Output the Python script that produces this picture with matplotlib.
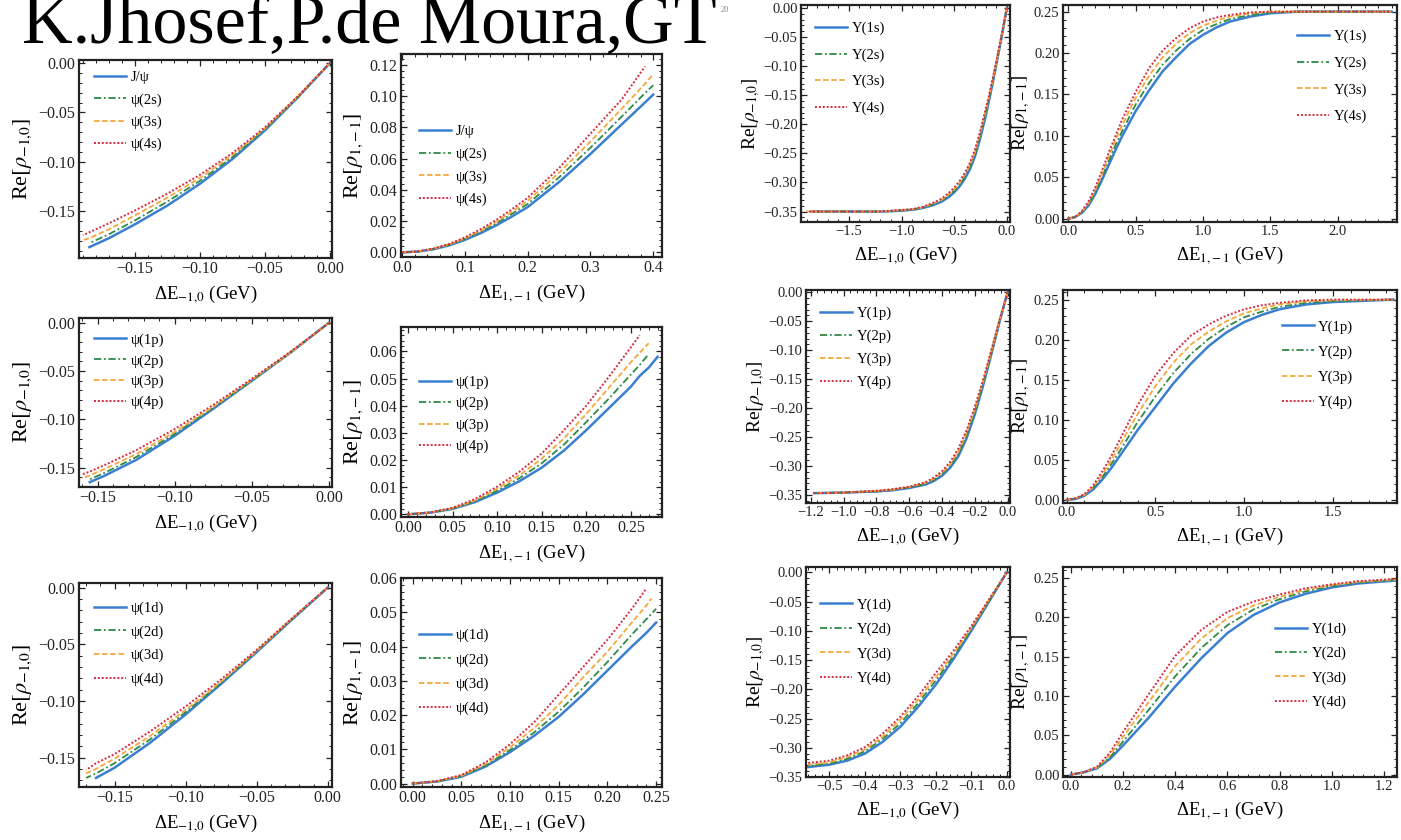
import matplotlib
matplotlib.use('Agg')
import matplotlib.pyplot as plt
from matplotlib.ticker import MultipleLocator, AutoMinorLocator, FuncFormatter

plt.rcParams['font.family'] = ['Liberation Serif', 'DejaVu Serif']
plt.rcParams['mathtext.fontset'] = 'stix'

# ---- data (shared x grid per panel, shorter series stop early)
psi_s_labels = ['J/ψ', 'ψ(2s)', 'ψ(3s)', 'ψ(4s)']
psi_p_labels = ['ψ(1p)', 'ψ(2p)', 'ψ(3p)', 'ψ(4p)']
psi_d_labels = ['ψ(1d)', 'ψ(2d)', 'ψ(3d)', 'ψ(4d)']
ups_s_labels = ['Υ(1s)', 'Υ(2s)', 'Υ(3s)', 'Υ(4s)']
ups_p_labels = ['Υ(1p)', 'Υ(2p)', 'Υ(3p)', 'Υ(4p)']
ups_d_labels = ['Υ(1d)', 'Υ(2d)', 'Υ(3d)', 'Υ(4d)']

psi_s_a_x = [0, -0.025, -0.05, -0.075, -0.1, -0.125, -0.15, -0.17, -0.185, -0.19]
psi_s_a_y = [
    [0, -0.035, -0.068, -0.097, -0.122, -0.144, -0.163, -0.177, -0.186],
    [0, -0.035, -0.067, -0.095, -0.119, -0.140, -0.159, -0.173, -0.182],
    [0, -0.034, -0.066, -0.093, -0.116, -0.136, -0.154, -0.168, -0.177, -0.179],
    [0, -0.034, -0.065, -0.091, -0.113, -0.132, -0.149, -0.162, -0.171, -0.174],
]
psi_s_b_x = [0, 0.025, 0.05, 0.075, 0.1, 0.125, 0.15, 0.175, 0.2, 0.25, 0.3, 0.35, 0.387, 0.40]
psi_s_b_y = [
    [0, 0.0005, 0.002, 0.0045, 0.008, 0.0123, 0.0173, 0.023, 0.029, 0.045, 0.063, 0.082, 0.096, 0.101],
    [0, 0.0005, 0.0021, 0.0048, 0.0086, 0.0132, 0.0186, 0.0247, 0.031, 0.048, 0.067, 0.087, 0.102, 0.107],
    [0, 0.0006, 0.0023, 0.0051, 0.009, 0.0139, 0.0196, 0.026, 0.033, 0.051, 0.071, 0.092, 0.108, 0.114],
    [0, 0.0006, 0.0024, 0.0054, 0.0096, 0.0148, 0.0208, 0.0276, 0.035, 0.054, 0.076, 0.098, 0.119],
]
psi_p_a_x = [0, -0.025, -0.05, -0.075, -0.10, -0.125, -0.145, -0.155, -0.16]
psi_p_a_y = [
    [0, -0.031, -0.060, -0.089, -0.117, -0.142, -0.158, -0.165],
    [0, -0.031, -0.060, -0.088, -0.115, -0.139, -0.155, -0.162],
    [0, -0.031, -0.059, -0.087, -0.113, -0.136, -0.151, -0.158, -0.161],
    [0, -0.030, -0.058, -0.085, -0.110, -0.132, -0.147, -0.154, -0.157],
]
psi_p_b_x = [0, 0.025, 0.05, 0.075, 0.1, 0.125, 0.15, 0.175, 0.2, 0.225, 0.25, 0.26, 0.27, 0.28]
psi_p_b_y = [
    [0, 0.0006, 0.002, 0.0045, 0.008, 0.0122, 0.0172, 0.0235, 0.031, 0.039, 0.047, 0.051, 0.054, 0.058],
    [0, 0.0006, 0.0021, 0.0048, 0.0087, 0.0133, 0.0188, 0.0257, 0.034, 0.0425, 0.0515, 0.055, 0.059],
    [0, 0.0007, 0.0022, 0.0051, 0.0094, 0.0144, 0.0205, 0.028, 0.037, 0.0465, 0.056, 0.0595, 0.063],
    [0, 0.0007, 0.0024, 0.0056, 0.0102, 0.0157, 0.0224, 0.031, 0.040, 0.0505, 0.0615, 0.066],
]
psi_d_a_x = [0, -0.025, -0.05, -0.075, -0.10, -0.125, -0.15, -0.163, -0.17]
psi_d_a_y = [
    [0, -0.028, -0.057, -0.085, -0.112, -0.137, -0.159, -0.168],
    [0, -0.028, -0.056, -0.084, -0.110, -0.134, -0.155, -0.164, -0.168],
    [0, -0.027, -0.056, -0.083, -0.108, -0.131, -0.151, -0.160, -0.164],
    [0, -0.027, -0.055, -0.081, -0.105, -0.127, -0.147, -0.155, -0.161],
]
psi_d_b_x = [0, 0.025, 0.05, 0.075, 0.1, 0.125, 0.15, 0.175, 0.2, 0.225, 0.24, 0.245, 0.25]
psi_d_b_y = [
    [0, 0.0006, 0.002, 0.005, 0.0092, 0.014, 0.0195, 0.026, 0.033, 0.040, 0.044, 0.0455, 0.047],
    [0, 0.0006, 0.0022, 0.0053, 0.0098, 0.015, 0.021, 0.028, 0.0355, 0.0435, 0.048, 0.0495, 0.051],
    [0, 0.0007, 0.0023, 0.0057, 0.0106, 0.0163, 0.023, 0.031, 0.0385, 0.047, 0.052, 0.054],
    [0, 0.0007, 0.0025, 0.0062, 0.0115, 0.018, 0.026, 0.034, 0.042, 0.051, 0.057],
]
ups_s_a_x = [0, -0.03, -0.06, -0.1, -0.13, -0.17, -0.2, -0.25, -0.3, -0.35, -0.4, -0.45,
             -0.5, -0.55, -0.62, -0.7, -0.8, -0.9, -1.05, -1.2, -1.6, -1.85, -1.9]
ups_s_a_y = [
    [0, -0.030, -0.060, -0.097, -0.125, -0.160, -0.185, -0.222, -0.254, -0.277, -0.294, -0.307,
     -0.317, -0.325, -0.333, -0.339, -0.344, -0.347, -0.349, -0.350, -0.350, -0.350],
    [0, -0.030, -0.059, -0.095, -0.122, -0.157, -0.181, -0.218, -0.250, -0.273, -0.291, -0.304,
     -0.314, -0.323, -0.331, -0.338, -0.343, -0.347, -0.349, -0.350, -0.350, -0.350],
    [0, -0.029, -0.057, -0.094, -0.120, -0.154, -0.177, -0.214, -0.246, -0.270, -0.287, -0.301,
     -0.312, -0.320, -0.330, -0.336, -0.343, -0.346, -0.348, -0.350, -0.350, -0.350, -0.350],
    [0, -0.029, -0.056, -0.092, -0.117, -0.151, -0.173, -0.210, -0.242, -0.266, -0.284, -0.298,
     -0.309, -0.318, -0.328, -0.335, -0.342, -0.346, -0.348, -0.350, -0.350, -0.350, -0.350],
]
ups_s_b_x = [0, 0.05, 0.1, 0.15, 0.2, 0.25, 0.3, 0.35, 0.4, 0.5, 0.6, 0.7, 0.8, 0.9, 1.0,
             1.1, 1.2, 1.35, 1.5, 1.7, 2.0, 2.4]
ups_s_b_y = [
    [0, 0.002, 0.007, 0.016, 0.030, 0.047, 0.065, 0.083, 0.100, 0.130, 0.155, 0.178, 0.195,
     0.211, 0.222, 0.231, 0.238, 0.244, 0.248, 0.25, 0.25, 0.25],
    [0, 0.002, 0.008, 0.018, 0.032, 0.050, 0.070, 0.089, 0.106, 0.138, 0.164, 0.186, 0.203,
     0.217, 0.228, 0.235, 0.241, 0.246, 0.249, 0.25, 0.25, 0.25],
    [0, 0.002, 0.008, 0.019, 0.035, 0.054, 0.075, 0.095, 0.113, 0.146, 0.173, 0.195, 0.211,
     0.224, 0.233, 0.239, 0.244, 0.248, 0.25, 0.25, 0.25, 0.25],
    [0, 0.002, 0.009, 0.021, 0.038, 0.058, 0.080, 0.100, 0.120, 0.153, 0.182, 0.203, 0.218,
     0.230, 0.238, 0.243, 0.246, 0.249, 0.25, 0.25, 0.25, 0.25],
]
ups_p_a_x = [0, -0.05, -0.1, -0.15, -0.2, -0.25, -0.3, -0.35, -0.4, -0.45, -0.5, -0.6, -0.7,
             -0.8, -1.0, -1.18]
ups_p_a_y = [
    [0, -0.052, -0.108, -0.162, -0.211, -0.252, -0.283, -0.303, -0.317, -0.326, -0.332, -0.338,
     -0.342, -0.344, -0.346, -0.347],
    [0, -0.051, -0.106, -0.159, -0.207, -0.247, -0.279, -0.300, -0.314, -0.324, -0.331, -0.337,
     -0.341, -0.344, -0.346, -0.347],
    [0, -0.050, -0.103, -0.155, -0.202, -0.243, -0.275, -0.297, -0.312, -0.322, -0.329, -0.336,
     -0.341, -0.343, -0.346, -0.347],
    [0, -0.049, -0.101, -0.152, -0.198, -0.238, -0.270, -0.293, -0.309, -0.320, -0.328, -0.336,
     -0.340, -0.343, -0.346, -0.347],
]
ups_p_b_x = [0, 0.05, 0.1, 0.15, 0.2, 0.25, 0.3, 0.35, 0.4, 0.5, 0.6, 0.7, 0.8, 0.9, 1.0,
             1.1, 1.2, 1.35, 1.5, 1.84]
ups_p_b_y = [
    [0, 0.001, 0.005, 0.013, 0.025, 0.039, 0.055, 0.071, 0.087, 0.116, 0.145, 0.170, 0.192,
     0.209, 0.222, 0.231, 0.238, 0.244, 0.247, 0.25],
    [0, 0.001, 0.006, 0.015, 0.028, 0.044, 0.061, 0.079, 0.097, 0.129, 0.158, 0.182, 0.201,
     0.216, 0.228, 0.235, 0.241, 0.246, 0.248, 0.25],
    [0, 0.002, 0.006, 0.016, 0.031, 0.049, 0.068, 0.088, 0.107, 0.142, 0.171, 0.194, 0.210,
     0.223, 0.233, 0.239, 0.244, 0.248, 0.249, 0.25],
    [0, 0.002, 0.007, 0.018, 0.035, 0.054, 0.075, 0.097, 0.118, 0.155, 0.183, 0.205, 0.219,
     0.230, 0.238, 0.243, 0.246, 0.249, 0.25, 0.25],
]
ups_d_a_x = [0, -0.05, -0.1, -0.15, -0.2, -0.25, -0.3, -0.35, -0.4, -0.45, -0.5, -0.56]
ups_d_a_y = [
    [0, -0.050, -0.100, -0.148, -0.192, -0.230, -0.264, -0.290, -0.310, -0.322, -0.329, -0.333],
    [0, -0.049, -0.097, -0.143, -0.185, -0.224, -0.258, -0.285, -0.306, -0.319, -0.327, -0.331],
    [0, -0.047, -0.095, -0.139, -0.179, -0.218, -0.252, -0.281, -0.303, -0.316, -0.325, -0.329],
    [0, -0.046, -0.092, -0.134, -0.172, -0.212, -0.247, -0.276, -0.299, -0.313, -0.322, -0.326],
]
ups_d_b_x = [0, 0.05, 0.1, 0.15, 0.2, 0.3, 0.4, 0.5, 0.6, 0.7, 0.8, 0.9, 1.0, 1.1, 1.25]
ups_d_b_y = [
    [0, 0.003, 0.008, 0.020, 0.037, 0.073, 0.112, 0.148, 0.180, 0.203, 0.219, 0.230, 0.238, 0.243, 0.247],
    [0, 0.003, 0.009, 0.022, 0.042, 0.083, 0.125, 0.161, 0.190, 0.210, 0.223, 0.233, 0.240, 0.244, 0.248],
    [0, 0.003, 0.009, 0.025, 0.048, 0.093, 0.138, 0.173, 0.199, 0.215, 0.226, 0.235, 0.241, 0.245, 0.248],
    [0, 0.003, 0.010, 0.028, 0.054, 0.103, 0.151, 0.184, 0.207, 0.220, 0.229, 0.237, 0.242, 0.246, 0.249],
]

colors = ['#3b7fd0', '#2f8a45', '#f2a83a', '#d82a40']
styles = ['-', (0, (4, 1.5, 1, 1.5)), (0, (3, 1.5)), (0, (1, 1))]
widths = [1.8, 1.3, 1.3, 1.4]

W, H = 1401, 840
fig = plt.figure(figsize=(W / 100, H / 100), dpi=100)


def box(l, t, r, b):
    return [l / W, 1 - b / H, (r - l) / W, (b - t) / H]


def fmt(dec):
    return FuncFormatter(lambda v, p: f"{round(v, dec) + 0:.{dec}f}".replace('-', '\u2212'))


def panel(rect, x, ys, labels, xlim, ylim, xstep, ystep, xdec, ydec, kind, loc, anchor,
          spacing=0.6, small=False):
    ax = fig.add_axes(box(*rect))
    for i, y in enumerate(ys):
        ax.plot(x[:len(y)], y, color=colors[i], ls=styles[i], lw=widths[i], label=labels[i])
    ax.set_xlim(*xlim)
    ax.set_ylim(*ylim)
    ax.xaxis.set_major_locator(MultipleLocator(xstep))
    ax.yaxis.set_major_locator(MultipleLocator(ystep))
    ax.xaxis.set_minor_locator(AutoMinorLocator(5))
    ax.yaxis.set_minor_locator(AutoMinorLocator(5))
    ax.xaxis.set_major_formatter(fmt(xdec))
    ax.yaxis.set_major_formatter(fmt(ydec))
    tsize = 10.5 if small else 11.5
    ysize = 14 if small else 16
    ax.tick_params(which='both', direction='in', top=True, right=True, labelsize=tsize,
                   color='#222222', labelcolor='#222222')
    ax.tick_params(which='major', length=4, width=0.9, pad=2.5)
    ax.tick_params(which='minor', length=2.2, width=0.7)
    for s in ax.spines.values():
        s.set_linewidth(1.6)
        s.set_color('#222222')
    if kind == 'a':
        ax.set_xlabel('ΔE$_{-1{,}0}$ (GeV)', fontsize=13.5, labelpad=5)
        ax.set_ylabel(r'Re$[\rho_{-1{,}0}]$', fontsize=ysize, labelpad=1 if small else 3)
    else:
        ax.set_xlabel('ΔE$_{1{,}-1}$ (GeV)', fontsize=13.5, labelpad=5)
        ax.set_ylabel(r'Re$[\rho_{1{,}-1}]$', fontsize=ysize, labelpad=1 if small else 3)
    ax.legend(loc=loc, bbox_to_anchor=anchor, frameon=False, fontsize=10.5,
              handlelength=2.2, handletextpad=0.3, labelspacing=spacing, borderpad=0.2)
    return ax


# charmonium, left group
panel((79, 60, 332, 258), psi_s_a_x, psi_s_a_y, psi_s_labels, (-0.193, 0.0015), (-0.197, 0.003),
      0.05, 0.05, 2, 2, 'a', 'upper left', (0.02, 0.995), 0.6)
panel((401, 54, 662, 257), psi_s_b_x, psi_s_b_y, psi_s_labels, (-0.002, 0.414), (-0.003, 0.127),
      0.1, 0.02, 1, 2, 'b', 'center left', (0.03, 0.45), 0.62)
panel((79, 318, 332, 487), psi_p_a_x, psi_p_a_y, psi_p_labels, (-0.162, 0.002), (-0.17, 0.005),
      0.05, 0.05, 2, 2, 'a', 'upper left', (0.02, 0.97), 0.5)
panel((401, 327, 662, 517), psi_p_b_x, psi_p_b_y, psi_p_labels, (-0.008, 0.285), (-0.001, 0.069),
      0.05, 0.01, 2, 2, 'b', 'center left', (0.03, 0.54), 0.55)
panel((79, 583, 332, 787), psi_d_a_x, psi_d_a_y, psi_d_labels, (-0.175, 0.003), (-0.176, 0.004),
      0.05, 0.05, 2, 2, 'a', 'upper left', (0.02, 0.96), 0.7)
panel((401, 578, 662, 787), psi_d_b_x, psi_d_b_y, psi_d_labels, (-0.012, 0.256), (-0.001, 0.06),
      0.05, 0.01, 2, 2, 'b', 'center left', (0.03, 0.55), 0.75)

# bottomonium, right group
panel((801, 5, 1010, 222), ups_s_a_x, ups_s_a_y, ups_s_labels, (-1.955, 0.03), (-0.368, 0.005),
      0.5, 0.05, 1, 2, 'a', 'upper left', (0.02, 0.97), 0.9, True)
panel((1063, 5, 1397, 222), ups_s_b_x, ups_s_b_y, ups_s_labels, (-0.04, 2.44), (-0.004, 0.258),
      0.5, 0.05, 1, 2, 'b', 'center right', (0.94, 0.67), 0.9, True)
panel((806, 290, 1010, 503), ups_p_a_x, ups_p_a_y, ups_p_labels, (-1.23, 0.015), (-0.364, 0.004),
      0.2, 0.05, 1, 2, 'a', 'upper left', (0.02, 0.97), 0.65, True)
panel((1063, 290, 1397, 503), ups_p_b_x, ups_p_b_y, ups_p_labels, (-0.02, 1.86), (-0.004, 0.262),
      0.5, 0.05, 1, 2, 'b', 'center right', (0.9, 0.65), 0.8, True)
panel((806, 567, 1010, 777), ups_d_a_x, ups_d_a_y, ups_d_labels, (-0.566, 0.009), (-0.35, 0.009),
      0.1, 0.05, 1, 2, 'a', 'upper left', (0.02, 0.9), 0.75, True)
panel((1063, 567, 1397, 777), ups_d_b_x, ups_d_b_y, ups_d_labels, (-0.03, 1.25), (-0.003, 0.264),
      0.2, 0.05, 1, 2, 'b', 'center right', (0.88, 0.53), 0.75, True)

fig.text(22 / W, 1 - 42 / H, 'K.Jhosef,P.de Moura,GT', fontsize=50.5,
         family='Liberation Serif', va='baseline', ha='left')
fig.text(721 / W, 1 - 12 / H, '20', fontsize=6, color='#888888')

fig.savefig('out.png', dpi=100)
